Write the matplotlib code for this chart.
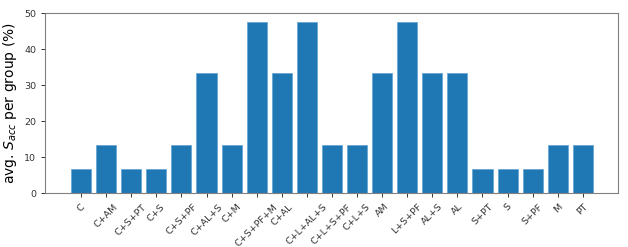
import matplotlib.pyplot as plt

groups = ["C", "C+AM", "C+S+PT", "C+S", "C+S+PF", "C+AL+S", "C+M", "C+S+PF+M",
          "C+AL", "C+L+AL+S", "C+L+S+PF", "C+L+S", "AM", "L+S+PF", "AL+S", "AL",
          "S+PT", "S", "S+PF", "M", "PT"]
s_acc = [6.67, 13.33, 6.67, 6.67, 13.33, 33.33, 13.33, 47.62,
         33.33, 47.62, 13.33, 13.33, 33.33, 47.62, 33.33, 33.33,
         6.67, 6.67, 6.67, 13.33, 13.33]

fig, ax = plt.subplots(figsize=(6.28, 2.47), dpi=100)
x = range(len(groups))
ax.bar(x, s_acc, color="#1f77b4", edgecolor="#6aa6d6", linewidth=0.6)
ax.set_xticks(list(x))
ax.set_xticklabels(groups, rotation=45, fontsize=6.8)
ax.tick_params(axis="y", labelsize=6.8)
ax.tick_params(length=3, width=0.7, colors="#333333")
ax.set_xlim(-1.43, 21.4)
ax.set_ylim(0, 50)
ax.set_ylabel(r"avg. $S_{acc}$ per group (%)", fontsize=10, labelpad=4)
for sp in ax.spines.values():
    sp.set_color("#808080")

fig.subplots_adjust(left=0.072, right=0.984, top=0.947, bottom=0.218)
fig.savefig("out.png", dpi=100)
